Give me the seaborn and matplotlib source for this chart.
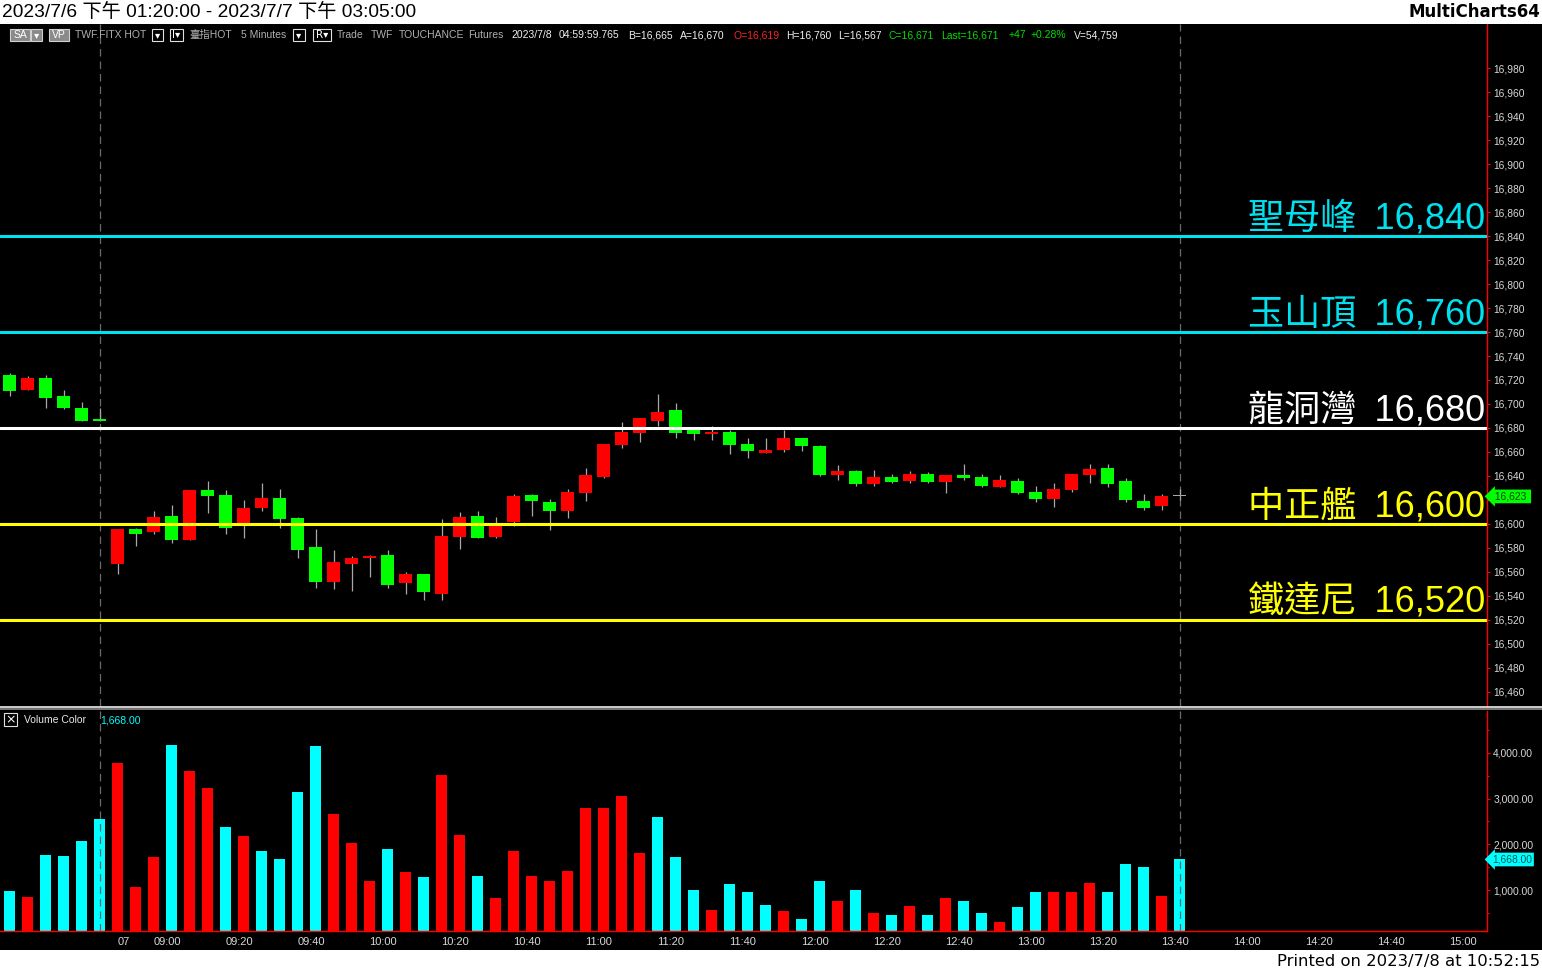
import numpy as np
import pandas as pd
import matplotlib
matplotlib.use("Agg")
import matplotlib.pyplot as plt
import seaborn as sns
from matplotlib.patches import Rectangle
from matplotlib.lines import Line2D
from matplotlib.ticker import FuncFormatter, MultipleLocator

# ---------------- data ----------------
opens = [16724, 16712, 16722, 16707, 16697, 16687,
         16567, 16596, 16593, 16607, 16587, 16628, 16624, 16599, 16613, 16622,
         16605, 16581, 16552, 16567, 16572, 16574, 16551, 16558, 16542, 16589,
         16607, 16589, 16602, 16624, 16618, 16611, 16626, 16639, 16666, 16676,
         16686, 16695, 16678, 16675, 16677, 16667, 16659, 16662, 16672, 16665,
         16641, 16644, 16633, 16639, 16636, 16642, 16635, 16641, 16639, 16631,
         16636, 16627, 16621, 16628, 16641, 16647, 16636, 16619, 16615, 16623]
highs = [16726, 16723, 16724, 16712, 16702, 16697,
         16596, 16597, 16611, 16616, 16628, 16636, 16628, 16620, 16634, 16629,
         16606, 16596, 16578, 16573, 16574, 16578, 16560, 16558, 16604, 16610,
         16611, 16606, 16625, 16625, 16621, 16629, 16647, 16667, 16685, 16688,
         16708, 16701, 16680, 16682, 16678, 16672, 16672, 16678, 16672, 16666,
         16649, 16645, 16645, 16642, 16644, 16643, 16641, 16650, 16642, 16641,
         16638, 16632, 16634, 16642, 16650, 16650, 16638, 16625, 16625, 16629]
lows = [16707, 16712, 16697, 16696, 16686, 16686,
        16558, 16582, 16592, 16584, 16587, 16609, 16592, 16588, 16611, 16597,
        16572, 16547, 16546, 16544, 16556, 16547, 16542, 16537, 16537, 16579,
        16588, 16588, 16598, 16607, 16595, 16605, 16619, 16638, 16663, 16668,
        16682, 16672, 16670, 16670, 16658, 16655, 16659, 16660, 16661, 16640,
        16637, 16632, 16632, 16634, 16634, 16634, 16626, 16637, 16631, 16631,
        16625, 16618, 16614, 16627, 16634, 16631, 16618, 16612, 16612, 16620]
closes = [16711, 16722, 16705, 16697, 16686, 16686,
          16596, 16592, 16606, 16587, 16628, 16623, 16597, 16613, 16622, 16604,
          16578, 16552, 16568, 16572, 16573, 16549, 16558, 16543, 16590, 16606,
          16588, 16600, 16623, 16619, 16611, 16627, 16641, 16667, 16677, 16688,
          16693, 16676, 16675, 16677, 16666, 16661, 16662, 16672, 16665, 16641,
          16644, 16633, 16639, 16635, 16642, 16635, 16641, 16638, 16632, 16637,
          16626, 16621, 16629, 16642, 16646, 16633, 16620, 16613, 16623, 16623]
volumes = [985, 851, 1775, 1753, 2083, 2543,
           3775, 1072, 1731, 4169, 3597, 3225, 2368, 2171, 1862, 1687,
           3138, 4147, 2654, 2039, 1203, 1906, 1400, 1291, 3510, 2214,
           1313, 829, 1862, 1313, 1203, 1422, 2786, 2786, 3048, 1818,
           2589, 1731, 1007, 567, 1138, 963, 676, 545, 368, 1203,
           764, 1007, 501, 457, 654, 457, 829, 764, 501, 302,
           632, 963, 963, 963, 1160, 963, 1578, 1512, 873, 1668]
vol_dir = ["dn", "up", "dn", "dn", "dn", "dn",
           "up", "up", "up", "dn", "up", "up", "dn", "up", "dn", "dn",
           "dn", "dn", "up", "up", "up", "dn", "up", "dn", "up", "up",
           "dn", "up", "up", "up", "up", "up", "up", "up", "up", "up",
           "dn", "dn", "dn", "up", "dn", "dn", "dn", "up", "dn", "dn",
           "up", "dn", "up", "dn", "up", "dn", "up", "dn", "dn", "up",
           "dn", "dn", "up", "up", "up", "dn", "dn", "dn", "up", "dn"]

level_names = ["聖母峰", "玉山頂", "龍洞灣", "中正艦", "鐵達尼"]
level_values = [16840, 16760, 16680, 16600, 16520]
level_colors = ["#00e1f0", "#00e1f0", "#ffffff", "#ffff00", "#ffff00"]

price_ticks = [16460, 16480, 16500, 16520, 16540, 16560, 16580, 16600, 16620,
               16640, 16660, 16680, 16700, 16720, 16740, 16760, 16780, 16800,
               16820, 16840, 16860, 16880, 16900, 16920, 16940, 16960, 16980]
volume_ticks = [1000, 2000, 3000, 4000]
time_labels = ["07", "09:00", "09:20", "09:40", "10:00", "10:20", "10:40",
               "11:00", "11:20", "11:40", "12:00", "12:20", "12:40", "13:00",
               "13:20", "13:40", "14:00", "14:20", "14:40", "15:00"]
prev_session_bars = 6          # 7/6 13:20 .. 13:45
last_price = 16623
last_volume = 1668.00

title_text = "2023/7/6 下午 01:20:00 - 2023/7/7 下午 03:05:00"
brand_text = "MultiCharts64"
printed_text = "Printed on 2023/7/8 at 10:52:15"

# ---------------- helpers ----------------
def bar_index(label):
    """5-minute bar index of an axis label (day session starts with the 08:50 bar)."""
    if ":" not in label:
        return prev_session_bars
    h, m = map(int, label.split(":"))
    return prev_session_bars + ((h * 60 + m) - (8 * 60 + 50)) // 5

W, H = 1542, 971
sns.set_theme(style="dark")
plt.rcParams["font.family"] = ["Liberation Sans", "Noto Sans CJK TC", "DejaVu Sans"]
plt.rcParams["axes.unicode_minus"] = False

fig = plt.figure(figsize=(W / 100, H / 100), dpi=100, facecolor="black")

def ftext(x, y, s, **kw):
    kw.setdefault("va", "center")
    kw.setdefault("zorder", 8)
    return fig.text(x / W, 1 - y / H, s, **kw)

def fbox(x0, y0, x1, y1, fc, ec, lw=0.8, z=5):
    fig.patches.append(Rectangle((x0 / W, 1 - y1 / H), (x1 - x0) / W, (y1 - y0) / H,
                                 transform=fig.transFigure, fc=fc, ec=ec, lw=lw, zorder=z))

# white strips top/bottom
fbox(0, 0, W, 24, "white", "none", 0, z=1)
fbox(0, 950, W, H, "white", "none", 0, z=1)

PLOT_R = 1487
axp = fig.add_axes([0, 1 - 706 / H, PLOT_R / W, (706 - 24) / H])
axv = fig.add_axes([0, 1 - 931 / H, PLOT_R / W, (931 - 711) / H])
for ax in (axp, axv):
    ax.set_facecolor("black")
    for s in ax.spines.values():
        s.set_visible(False)
    ax.grid(False)

n = len(closes)
idx = np.arange(n)
xlim = (-0.5278, 82.083)

# ---------------- candles ----------------
o = np.array(opens); c = np.array(closes)
body_bottom = np.minimum(o, c)
body_height = np.maximum(np.abs(c - o), 1.3)
body_color = ["#ff0000" if cc > oo else ("#00ff00" if cc < oo else "#a8a8a8")
              for oo, cc in zip(opens, closes)]
axp.vlines(idx, lows, highs, color="#a8a8a8", lw=0.9, zorder=2)
axp.bar(idx, body_height, bottom=body_bottom, width=0.72, color=body_color,
        linewidth=0, zorder=3)

for name, val, col in zip(level_names, level_values, level_colors):
    axp.axhline(val, color=col, lw=2.2, zorder=4)
    axp.text(1 - 1.5 / PLOT_R, val + 6.5, f"{name}\u2002{val:,}", transform=axp.get_yaxis_transform(),
             ha="right", va="baseline", fontsize=26, color=col, zorder=5,
             family=["Liberation Sans", "Noto Sans CJK TC"], fontweight="light")

axp.set_xlim(*xlim)
axp.set_ylim(16448.33, 17016.67)
axp.set_xticks([])
axp.yaxis.tick_right()
axp.set_yticks(price_ticks)
# the last-price marker sits on top of the label nearest to it
axp.yaxis.set_major_formatter(FuncFormatter(
    lambda v, p: "" if abs(v - last_price) < 10 else f"{int(v):,}"))
axp.tick_params(axis="y", direction="out", length=2.4, width=0.8, color="#ff0000",
                labelcolor="#d8d8d8", labelsize=7.4, pad=2.0)
axp.spines["right"].set_visible(True)
axp.spines["right"].set_color("#ff0000")
axp.spines["right"].set_linewidth(1.0)

axp.text(1 + 5 / PLOT_R, last_price, f" {last_price:,} ", transform=axp.get_yaxis_transform(),
         ha="left", va="center", fontsize=7.4, color="#0b3d0b", clip_on=False, zorder=6,
         bbox=dict(boxstyle="larrow,pad=0.18", fc="#00ff00", ec="none"))

# ---------------- volume ----------------
df = pd.DataFrame({"idx": idx, "volume": volumes, "dir": vol_dir})
sns.barplot(data=df, x="idx", y="volume", hue="dir", palette={"up": "#ff0000", "dn": "#00ffff"},
            native_scale=True, width=0.62, dodge=False, legend=False, saturation=1,
            errorbar=None, linewidth=0, ax=axv)
axv.set_xlim(*xlim)
axv.set_ylim(103, 4917)
axv.set_xlabel(""); axv.set_ylabel("")
axv.yaxis.tick_right()
axv.set_yticks(volume_ticks)
axv.yaxis.set_minor_locator(MultipleLocator(500))
axv.yaxis.set_major_formatter(FuncFormatter(lambda v, p: f"{v:,.2f}"))
axv.tick_params(axis="y", which="major", direction="out", length=2.4, width=0.8,
                color="#ff0000", labelcolor="#d8d8d8", labelsize=7.4, pad=2.0)
axv.tick_params(axis="y", which="minor", direction="out", length=1.6, width=0.8, color="#ff0000")
tick_pos = [bar_index(t) for t in time_labels]
axv.set_xticks(tick_pos)
axv.set_xticklabels(time_labels)
axv.tick_params(axis="x", direction="out", length=2.2, width=0.8, color="#ff0000",
                labelcolor="#d8d8d8", labelsize=8.0, pad=2.2)
for lab in axv.get_xticklabels():
    lab.set_horizontalalignment("left")
for side in ("right", "bottom"):
    axv.spines[side].set_visible(True)
    axv.spines[side].set_color("#ff0000")
    axv.spines[side].set_linewidth(1.0)

axv.text(1 + 5 / PLOT_R, last_volume, f"{last_volume:,.2f}", transform=axv.get_yaxis_transform(),
         ha="left", va="center", fontsize=7.4, color="#005a5a", clip_on=False, zorder=6,
         bbox=dict(boxstyle="larrow,pad=0.18", fc="#00ffff", ec="none"))

# session / current bar separators
for ax in (axp, axv):
    for xi in (prev_session_bars - 1, n - 1):
        ax.axvline(xi, color="#6a6a6a", lw=0.9, ls=(0, (6, 4)), zorder=1)

# pane separator
fig.add_artist(Line2D([0, 1], [1 - 707 / H, 1 - 707 / H], transform=fig.transFigure,
                      color="#f0f0f0", lw=1.2))
fig.add_artist(Line2D([0, 1], [1 - 709.2 / H, 1 - 709.2 / H], transform=fig.transFigure,
                      color="#8c8c8c", lw=1.2))

# ---------------- titles ----------------
ftext(2, 12, title_text, color="black", fontsize=13.8, ha="left",
      family=["Liberation Sans", "Noto Sans CJK TC"])
ftext(1540, 12, brand_text, color="black", fontsize=12, ha="right",
      fontweight="bold", family="DejaVu Sans")
ftext(1540, 961, printed_text, color="black", fontsize=11.8, ha="right",
      family="DejaVu Sans")

# ---------------- header strip (price pane) ----------------
HY = 35
hs = 7.5
gray = "#b0b0b0"; white = "#f0f0f0"; red = "#ff2020"; green = "#00e000"
fbox(10, 29, 30, 41, "#8a8a8a", "#d0d0d0")
ftext(20, HY, "SA", color="white", fontsize=hs, ha="center")
fbox(31, 29, 42, 41, "#8a8a8a", "#d0d0d0")
ftext(36.5, HY, "▾", color="white", fontsize=hs, ha="center", family="DejaVu Sans")
fbox(49, 29, 69, 41, "#8a8a8a", "#d0d0d0")
ftext(59, HY, "VP", color="white", fontsize=hs, ha="center")
ftext(75, HY, "TWF.FITX HOT", color=gray, fontsize=hs, ha="left")
for (x0, x1, s) in [(152, 163, "▾"), (170, 183, "I▾"), (293, 305, "▾"), (313, 331, "R▾")]:
    fbox(x0, 29, x1, 41, "black", "#e0e0e0")
    ftext((x0 + x1) / 2, HY, s, color="white", fontsize=hs, ha="center", family="DejaVu Sans")
for (x, s, col) in [(189, "臺指HOT", gray), (241, "5 Minutes", gray), (337, "Trade", gray),
                    (371, "TWF", gray), (399, "TOUCHANCE", gray), (468, "Futures", gray),
                    (511, "2023/7/8", white), (559, "04:59:59.765", white),
                    (628, "B=16,665", white), (680, "A=16,670", white), (733, "O=16,619", red),
                    (786, "H=16,760", white), (838, "L=16,567", white), (889, "C=16,671", green),
                    (941, "Last=16,671", green), (1009, "+47", green), (1031, "+0.28%", green),
                    (1074, "V=54,759", white)]:
    ftext(x, HY, s, color=col, fontsize=hs, ha="left")

# volume header
fbox(4, 713, 17, 726, "black", "#e0e0e0")
ftext(10.5, 719.5, "×", color="white", fontsize=9, ha="center", family="DejaVu Sans")
ftext(24, 720, "Volume Color", color="#e8e8e8", fontsize=hs, ha="left")
ftext(100, 720, f"{last_volume:,.2f}", color="#00ffff", fontsize=hs, ha="left")

fig.savefig("out.png", dpi=100, facecolor="black")
